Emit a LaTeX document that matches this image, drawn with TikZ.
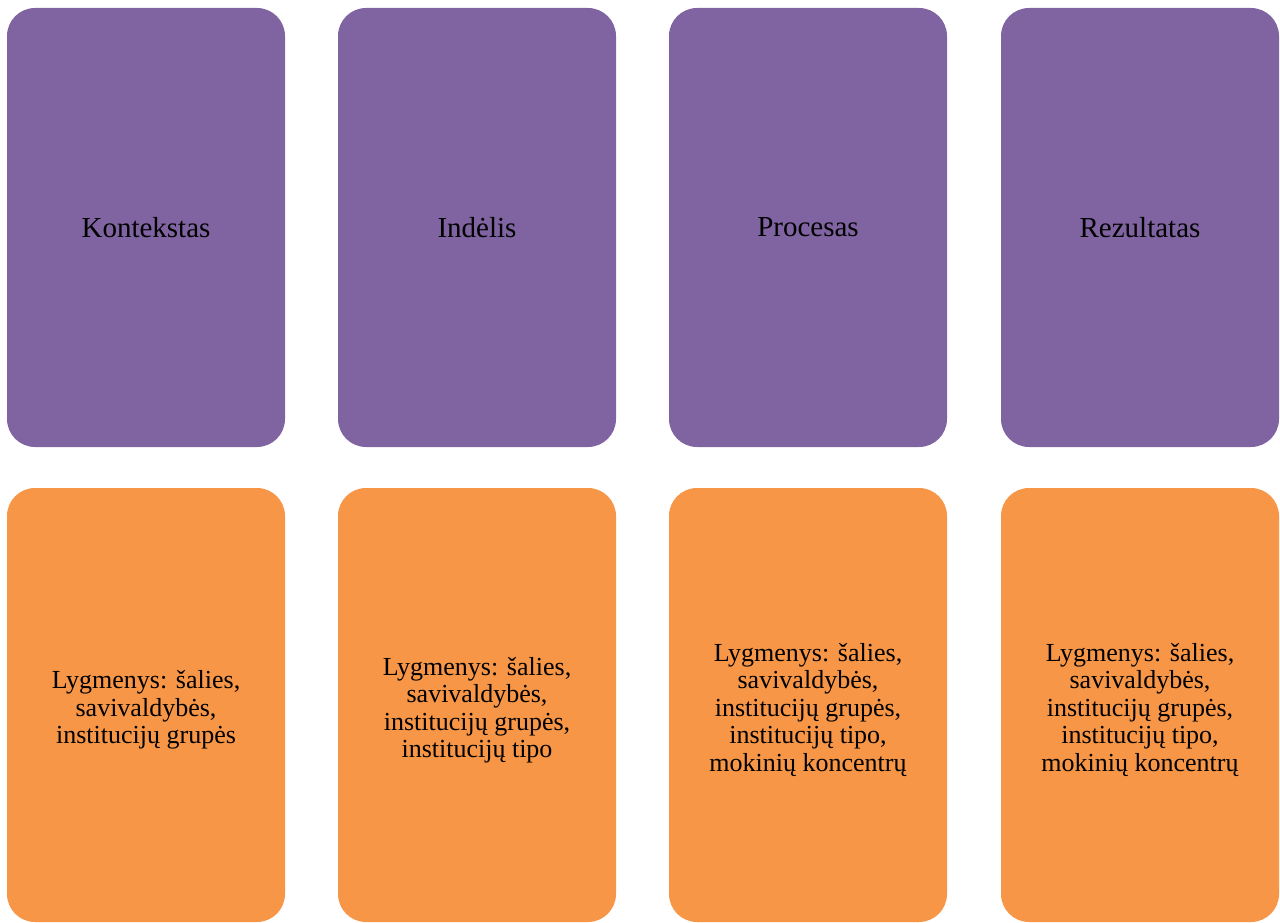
\documentclass[tikz,border=0pt]{standalone}
\usepackage{fontspec}
\setmainfont{Liberation Serif}
\definecolor{purp}{HTML}{8064A2}
\definecolor{orng}{HTML}{F79646}
\begin{document}
\begin{tikzpicture}[x=1pt,y=-1pt,
  card/.style={minimum width=278pt,rounded corners=28pt,inner sep=0pt,
    align=center,text=black},
  topcard/.style={card,fill=purp,minimum height=439pt,font=\fontsize{29}{32}\selectfont},
  botcard/.style={card,fill=orng,minimum height=434pt,font=\fontsize{26}{27.5}\selectfont},
  lbl/.style={align=center,text=black,inner sep=0pt,font=\fontsize{26}{27.5}\selectfont}]
\useasboundingbox (0,0) rectangle (1280,923);
\node[topcard] (t1) at (146,227.5) {Kontekstas};
\node[topcard] (t2) at (477,227.5) {Indėlis};
\node[topcard] (t3) at (808,227.5) {Procesas};
\node[topcard] (t4) at (1140,227.5) {Rezultatas};
\node[botcard] (b1) at (146,705) {};
\node[botcard] (b2) at (477,705) {};
\node[botcard] (b3) at (808,705) {};
\node[botcard] (b4) at (1140,705) {};
\node[lbl] (l1) at ([yshift=-5pt]b1.center) {Lygmenys: šalies,\\savivaldybės,\\institucijų grupės};
\node[lbl] (l2) at ([yshift=-5pt]b2.center) {Lygmenys: šalies,\\savivaldybės,\\institucijų grupės,\\institucijų tipo};
\node[lbl] (l3) at ([yshift=-5pt]b3.center) {Lygmenys: šalies,\\savivaldybės,\\institucijų grupės,\\institucijų tipo,\\mokinių koncentrų};
\node[lbl] (l4) at ([yshift=-5pt]b4.center) {Lygmenys: šalies,\\savivaldybės,\\institucijų grupės,\\institucijų tipo,\\mokinių koncentrų};
\end{tikzpicture}
\end{document}
